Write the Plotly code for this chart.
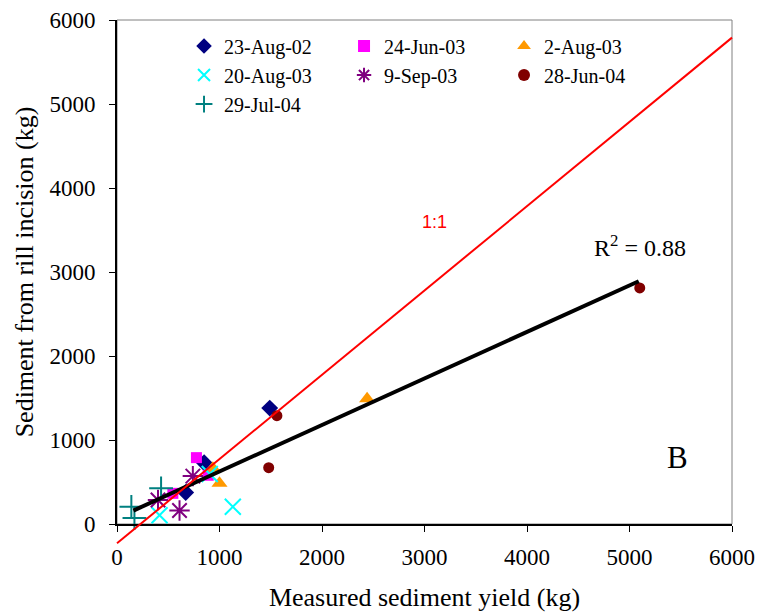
import plotly.graph_objects as go

# ---- data ----
series_names = ["23-Aug-02", "24-Jun-03", "2-Aug-03", "20-Aug-03", "9-Sep-03", "28-Jun-04", "29-Jul-04"]

aug02_x = [1490, 850, 670]
aug02_y = [1380, 730, 375]

jun03_x = [775, 890, 545]
jun03_y = [790, 580, 365]

aug03_x = [2440, 935, 1000]
aug03_y = [1490, 665, 485]

aug20_x = [905, 415, 1130]
aug20_y = [595, 105, 205]

sep03_x = [740, 400, 610]
sep03_y = [570, 285, 160]

jun04_x = [5100, 1560, 1480]
jun04_y = [2810, 1290, 670]

jul04_x = [430, 140, 170]
jul04_y = [425, 205, 70]

fit_x = [160, 5090]
fit_y = [160, 2890]

one_to_one_x = [0, 6000]
one_to_one_y = [-230, 5790]

x_ticks = [0, 1000, 2000, 3000, 4000, 5000, 6000]
y_ticks = [0, 1000, 2000, 3000, 4000, 5000, 6000]

SERIF = "Liberation Serif"
SANS = "Liberation Sans"

styles = [
    dict(symbol="diamond", color="#000080", size=13, line=dict(width=0)),
    dict(symbol="square", color="#FF00FF", size=11, line=dict(width=0)),
    dict(symbol="triangle-up", color="#FF9900", size=14, line=dict(width=0)),
    dict(symbol="x-thin-open", color="#00FFFF", size=16, line=dict(width=2, color="#00FFFF")),
    dict(symbol="asterisk-open", color="#800080", size=17, line=dict(width=2, color="#800080")),
    dict(symbol="circle", color="#800000", size=11, line=dict(width=0)),
    dict(symbol="cross-thin-open", color="#008080", size=17, line=dict(width=2, color="#008080")),
]
xs = [aug02_x, jun03_x, aug03_x, aug20_x, sep03_x, jun04_x, jul04_x]
ys = [aug02_y, jun03_y, aug03_y, aug20_y, sep03_y, jun04_y, jul04_y]

fig = go.Figure()
for name, x, y, st in zip(series_names, xs, ys, styles):
    fig.add_trace(go.Scatter(x=x, y=y, mode="markers", name=name, marker=st, cliponaxis=False))

fig.add_trace(go.Scatter(x=fit_x, y=fit_y, mode="lines", line=dict(color="black", width=4),
                         showlegend=False, hoverinfo="skip"))

xr = [0, 6000]
yr = [0, 6000]

# thin grey plot-area border (top / right)
fig.add_shape(type="rect", xref="paper", yref="paper", x0=0, y0=0, x1=1, y1=1,
              line=dict(color="#808080", width=1), layer="below")

fig.add_shape(type="line", xref="paper", yref="paper",
              x0=(one_to_one_x[0] - xr[0]) / (xr[1] - xr[0]),
              y0=(one_to_one_y[0] - yr[0]) / (yr[1] - yr[0]),
              x1=(one_to_one_x[1] - xr[0]) / (xr[1] - xr[0]),
              y1=(one_to_one_y[1] - yr[0]) / (yr[1] - yr[0]),
              line=dict(color="#FF0000", width=2), layer="above")

fig.add_annotation(x=3100, y=3600, text="1:1", showarrow=False,
                   font=dict(family=SANS, size=18, color="#FF0000"))
fig.add_annotation(x=5100, y=3310, text="R<sup>2</sup> = 0.88", showarrow=False,
                   font=dict(family=SERIF, size=24, color="black"))
fig.add_annotation(x=5470, y=790, text="B", showarrow=False,
                   font=dict(family=SERIF, size=31, color="black"))

axis_common = dict(showgrid=False, zeroline=False, showline=True, linecolor="black", linewidth=2,
                   ticks="outside", ticklen=6, tickcolor="black", tickwidth=1, automargin=False,
                   tickfont=dict(family=SERIF, size=23, color="black"))

fig.update_xaxes(range=xr, tickvals=x_ticks, ticklabelstandoff=5, **axis_common,
                 title=dict(text="Measured sediment yield (kg)", font=dict(family=SERIF, size=26, color="black"),
                            standoff=19))
fig.update_yaxes(range=yr, tickvals=y_ticks, ticklabelstandoff=9, **axis_common,
                 title=dict(text="Sediment from rill incision (kg)", font=dict(family=SERIF, size=26, color="black"),
                            standoff=8))

fig.update_layout(
    width=758, height=615,
    margin=dict(l=117, r=26, t=20, b=91),
    paper_bgcolor="white", plot_bgcolor="white",
    font=dict(family=SERIF, color="black"),
    legend=dict(orientation="h", x=0.109, y=0.987, xanchor="left", yanchor="top",
                entrywidth=115, entrywidthmode="pixels", tracegroupgap=0,
                font=dict(family=SERIF, size=20, color="black"), bgcolor="rgba(0,0,0,0)",
                itemsizing="constant"),
)

fig.write_html("out.html")
